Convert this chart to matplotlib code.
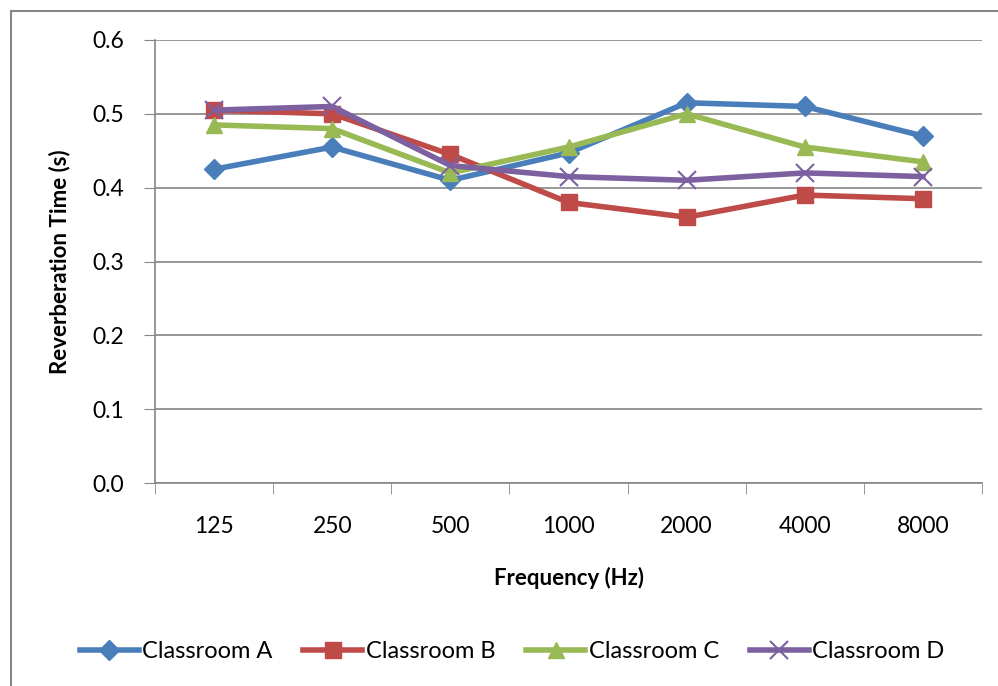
import matplotlib.pyplot as plt
import numpy as np
from matplotlib.patches import Rectangle

plt.rcParams['font.family'] = ['Lato', 'DejaVu Sans']

freqs = ['125', '250', '500', '1000', '2000', '4000', '8000']
room_a = [0.425, 0.455, 0.41, 0.447, 0.515, 0.51, 0.47]
room_b = [0.505, 0.50, 0.445, 0.38, 0.36, 0.39, 0.385]
room_c = [0.485, 0.48, 0.42, 0.455, 0.50, 0.455, 0.435]
room_d = [0.505, 0.51, 0.43, 0.415, 0.41, 0.42, 0.415]

fig = plt.figure(figsize=(9.98, 6.86), dpi=100)
ax = fig.add_axes([155/998, 203/686, (982-155)/998, (483-40)/686])

x = np.arange(len(freqs))
ax.plot(x, room_a, color='#4a7ebb', lw=4, marker='D', ms=10, label='Classroom A')
ax.plot(x, room_b, color='#be4b48', lw=4, marker='s', ms=12, label='Classroom B')
ax.plot(x, room_c, color='#98b954', lw=4, marker='^', ms=12, label='Classroom C')
ax.plot(x, room_d, color='#7d60a0', lw=4, marker='x', ms=13, mew=1.5, label='Classroom D')

ax.set_xlim(-0.5, 6.5)
ax.set_ylim(0, 0.6)
ax.set_yticks(np.arange(0, 0.61, 0.1))
ax.set_yticklabels([f'{v:.1f}' for v in np.arange(0, 0.61, 0.1)], fontsize=16.5)
ax.set_xticks(x)
ax.set_xticklabels(freqs, fontsize=16.5)
ax.set_xticks(np.arange(-0.5, 7, 1), minor=True)
ax.tick_params(axis='x', which='major', length=0, pad=24)
ax.tick_params(axis='x', which='minor', length=8, color='#868686', direction='out')
ax.tick_params(axis='y', length=8, color='#868686', direction='out', pad=14)
ax.grid(axis='y', color='#868686', lw=1.2)
ax.set_axisbelow(True)
for s in ['top', 'right']:
    ax.spines[s].set_visible(False)
for s in ['left', 'bottom']:
    ax.spines[s].set_color('#868686')
    ax.spines[s].set_linewidth(1.2)

ax.set_xlabel('Frequency (Hz)', fontsize=16, fontweight='bold', labelpad=21)
ax.set_ylabel('Reverberation Time (s)', fontsize=16, fontweight='bold', labelpad=16)

fig.legend(loc='center', bbox_to_anchor=(0.513, 1 - 652/686), ncol=4, frameon=False,
           fontsize=17, handlelength=2.5, columnspacing=1.3, handletextpad=0.15)

fig.patches.append(Rectangle((11/998, -0.1), 1.2, 1 - 11/686 + 0.1, transform=fig.transFigure,
                             fill=False, edgecolor='#868686', lw=1.5))

fig.savefig('out.png', dpi=100)
